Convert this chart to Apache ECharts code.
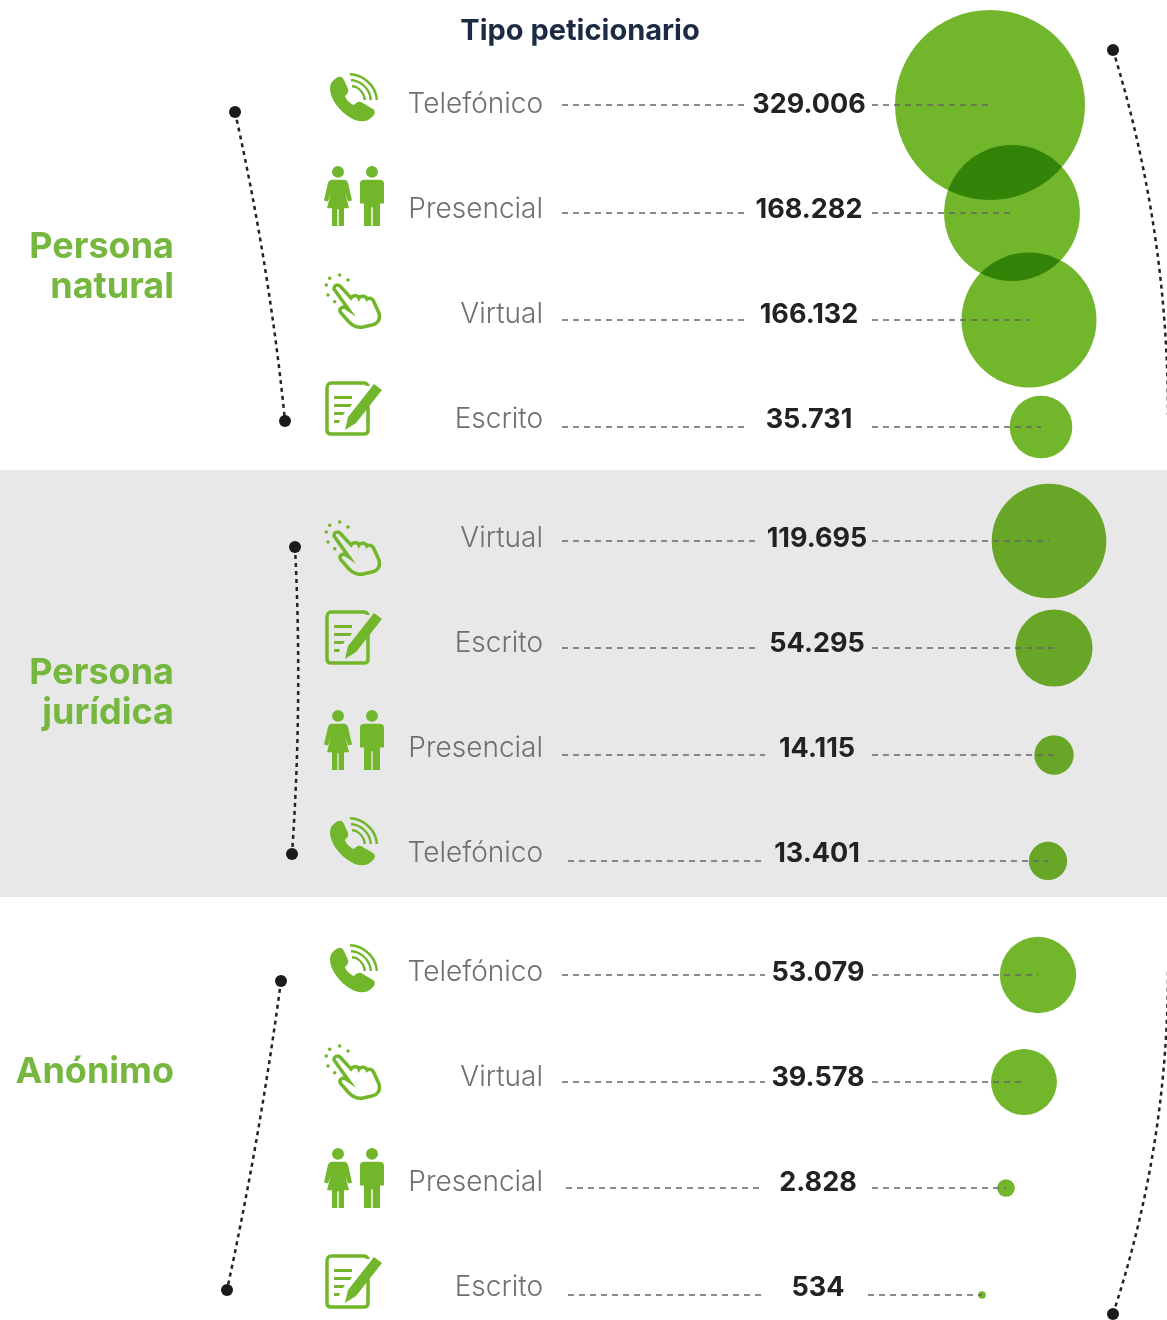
<!DOCTYPE html>
<html lang="es">
<head>
<meta charset="utf-8">
<title>Tipo peticionario</title>
<script src="https://cdn.jsdelivr.net/npm/echarts@6/dist/echarts.min.js"></script>
<style>
  html, body { margin: 0; padding: 0; background: #fff; }
  #chart { width: 1167px; height: 1320px; }
</style>
</head>
<body>
<div id="chart"></div>
<script>
// data
var groups = ['Persona\nnatural', 'Persona\njurídica', 'Anónimo'];
var channels = [
  'Telefónico', 'Presencial', 'Virtual', 'Escrito',
  'Virtual', 'Escrito', 'Presencial', 'Telefónico',
  'Telefónico', 'Virtual', 'Presencial', 'Escrito'
];
var values = [329006, 168282, 166132, 35731, 119695, 54295, 14115, 13401, 53079, 39578, 2828, 534];

// layout, in page pixels (the axes below run 0-1167 and 0-1320)
var rowY = [105, 210, 315, 420, 539, 644, 749, 854, 973, 1078, 1183, 1288];
var bubbleX = [990, 1012, 1029, 1041, 1049, 1054, 1054, 1048, 1038, 1024, 1006, 982];
var bubbleY = [105, 213, 320, 427, 541, 648, 755, 861, 975, 1082, 1188, 1295];
var valueX = [809, 809, 809, 809, 817, 817, 817, 817, 818, 818, 818, 818];
var dashLeftFrom = [562, 562, 562, 562, 562, 562, 562, 568, 562, 562, 566, 568];
var dashLeftTo = [745, 745, 745, 745, 757, 757, 765, 765, 765, 765, 763, 766];
var dashRightFrom = [872, 872, 872, 872, 872, 872, 872, 868, 872, 872, 872, 868];
var iconX = [354, 354, 351, 354, 351, 354, 354, 354, 354, 351, 354, 354];
var iconY = [98, 196, 300, 408, 547, 637, 740, 842, 969, 1071, 1178, 1281];
var groupY = [267, 693, 1072];
var maxRadius = 95;

var FONT = 'Inter, "Noto Sans", sans-serif';
var GREEN = '#72b72b';

// all icons share a 60x60 box, the two M..L.. corners hold the box open
var box = 'M0 0L0 0M60 60L60 60';
function dot(x, y) {
  return 'M' + (x - 1.8) + ' ' + y + 'A1.8 1.8 0 1 1 ' + (x + 1.8) + ' ' + y + 'A1.8 1.8 0 1 1 ' + (x - 1.8) + ' ' + y + 'Z';
}
var iconFill = {
  'Telefónico': box + 'M11 11C15 8 18 8 20 12L24 21C25 24 23 26 21 28C22 31 25 35 30 37C32 35 34 33 37 34L49 41C52 43 51 47 48 49C44 54 35 55 27 50C15 43 6 31 6 20C6 16 8 13 11 11Z' +
    'M26 5C39 5 54 17 54 32L51.5 32C51.5 19 38 7.5 26 7.5Z' +
    'M27 11C37 11 48 21 48 32L45.5 32C45.5 22 36 13.5 27 13.5Z' +
    'M28 17C35 17 42 25 42 32L39.5 32C39.5 26 34 19.5 28 19.5Z',
  'Presencial': box + 'M14 0A6 6 0 1 1 14 12A6 6 0 1 1 14 0Z' +
    'M48 0A6 6 0 1 1 48 12A6 6 0 1 1 48 0Z' +
    'M8 14L20 14C22 14 23 15 24 17L28 35L24 36L21 27L25 43L20 43L20 61L14.7 61L14.7 44L13.3 44L13.3 61L8 61L8 43L3 43L7 27L4 36L0 35L4 17C5 15 6 14 8 14Z' +
    'M41 14L55 14C58 14 60 15 60 18L60 38L56 38L56 61L48.7 61L48.7 42L47.3 42L47.3 61L40 61L40 38L36 38L36 18C36 15 38 14 41 14Z',
  'Virtual': box + dot(8.7, 8.3) + dot(18.7, 5) + dot(27, 10) + dot(5.3, 15) + dot(7, 25) + dot(13.7, 31.7),
  'Escrito': box + 'M10 18L28 18L28 21L10 21Z M10 26L28 26L26 29L10 29Z M10 34L21 34L19 37L10 37Z M10 42L16 42L15 45L10 45Z' +
    'M50 6L58 12L32 45L21 52L24 39Z'
};
var iconStroke = {
  'Telefónico': box,
  'Presencial': box,
  'Virtual': box + 'M13 19C13 15 17 14 19 16L30 28C32 25 37 25 38 28C40 25 45 26 46 29C49 27 52 29 53 32L58 43C60 50 56 54 51 55L42 57C36 58 32 56 28 52L20 43C17 39 21 36 25 38L28 40Z',
  'Escrito': box + 'M44 22L44 52C44 55 42 56 40 56L7 56C5 56 3 55 3 52L3 10C3 7 5 5 7 5L40 5C41 5 44 6 44 8'
};

function rowPoints(xs, ys, extra) {
  return xs.map(function (x, i) { return [x, ys[i], extra ? extra[i] : null]; });
}

function dashLines(from, to, ys) {
  return from.map(function (x, i) {
    return { coords: [[x, ys[i]], [to[i], ys[i]]] };
  });
}

function dottedArc(x0, y0, x1, y1, bend) {
  return { coords: [[x0, y0], [x1, y1]], lineStyle: { curveness: bend } };
}

function textSeries(points, texts, labelStyle) {
  return {
    type: 'scatter',
    silent: true,
    symbolSize: 0,
    z: 6,
    itemStyle: { opacity: 1 },
    data: points,
    label: Object.assign({
      show: true,
      position: 'inside',
      formatter: function (p) { return texts[p.dataIndex]; }
    }, labelStyle)
  };
}

function iconSeries(paths, style) {
  return {
    type: 'scatter',
    silent: true,
    z: 4,
    symbolSize: 60,
    symbol: function (v, p) { return 'path://' + paths[channels[p.dataIndex]]; },
    data: rowPoints(iconX, iconY),
    itemStyle: Object.assign({ opacity: 1 }, style)
  };
}

function esNumber(v) {
  return String(v).replace(/\B(?=(\d{3})+$)/g, '.');
}

var chart = echarts.init(document.getElementById('chart'));
chart.setOption({
  animation: false,
  backgroundColor: '#fff',
  title: {
    text: 'Tipo peticionario',
    left: 575,
    top: 12,
    textAlign: 'center',
    textStyle: { fontFamily: FONT, fontWeight: 700, fontSize: 29, color: '#1c2a43' }
  },
  grid: { left: 0, top: 0, right: 0, bottom: 0 },
  xAxis: { type: 'value', min: 0, max: 1167, show: false },
  yAxis: { type: 'value', min: 0, max: 1320, inverse: true, show: false },
  graphic: [{
    type: 'rect',
    z: -1,
    shape: { x: 0, y: 470, width: 1167, height: 427 },
    style: { fill: '#e8e8e8' }
  }],
  series: [
    {
      // bubble area follows the value, multiply gives the dark overlaps
      type: 'scatter',
      silent: true,
      z: 2,
      blendMode: 'multiply',
      symbolSize: function (d) { return 2 * maxRadius * Math.sqrt(d[2] / values[0]); },
      itemStyle: { color: GREEN, opacity: 1 },
      data: rowPoints(bubbleX, bubbleY, values)
    },
    {
      type: 'lines',
      coordinateSystem: 'cartesian2d',
      silent: true,
      z: 3,
      lineStyle: { color: '#666', width: 1.5, type: [6, 5], opacity: 1 },
      data: dashLines(dashLeftFrom, dashLeftTo, bubbleY).concat(dashLines(dashRightFrom, bubbleX, bubbleY))
    },
    {
      type: 'lines',
      coordinateSystem: 'cartesian2d',
      silent: true,
      z: 3,
      lineStyle: { color: '#222', width: 2.5, type: [4, 4], opacity: 1 },
      data: [
        dottedArc(235, 112, 285, 421, 0.03),
        dottedArc(295, 547, 292, 854, 0.03),
        dottedArc(281, 981, 227, 1290, 0.02),
        dottedArc(1113, 50, 1168, 415, 0.075),
        dottedArc(1113, 1314, 1168, 970, -0.08)
      ]
    },
    {
      type: 'scatter',
      silent: true,
      z: 4,
      symbolSize: 12,
      itemStyle: { color: '#1b1b1b', opacity: 1 },
      data: [[235, 112], [285, 421], [295, 547], [292, 854], [281, 981], [227, 1290], [1113, 50], [1113, 1314]]
    },
    iconSeries(iconFill, { color: GREEN }),
    iconSeries(iconStroke, { color: 'rgba(0,0,0,0)', borderColor: GREEN, borderWidth: 3.5 }),
    textSeries(rowPoints(channels.map(function () { return 543; }), rowY), channels, {
      align: 'right',
      verticalAlign: 'middle',
      fontFamily: FONT,
      fontWeight: 300,
      fontSize: 28,
      color: '#6f6f6f'
    }),
    textSeries(rowPoints(valueX, rowY), values.map(esNumber), {
      align: 'center',
      verticalAlign: 'middle',
      fontFamily: FONT,
      fontWeight: 700,
      fontSize: 27,
      color: '#222'
    }),
    textSeries(rowPoints(groups.map(function () { return 174; }), groupY), groups, {
      align: 'right',
      verticalAlign: 'middle',
      fontFamily: FONT,
      fontWeight: 700,
      fontSize: 36,
      lineHeight: 40,
      color: '#76b83f'
    })
  ]
});
</script>
</body>
</html>
